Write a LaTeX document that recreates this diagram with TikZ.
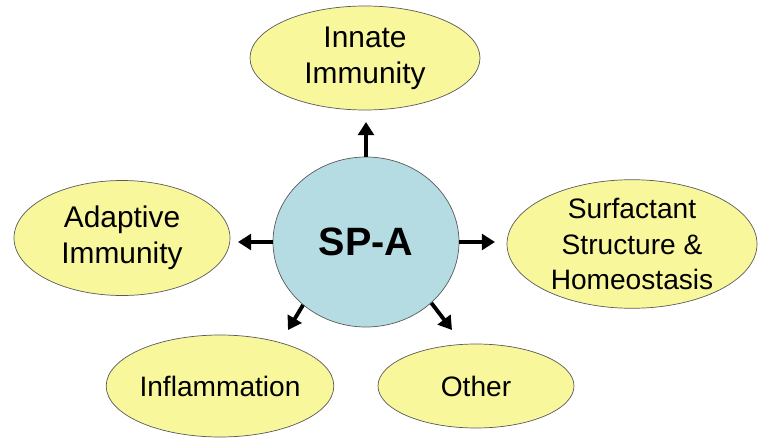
\documentclass[tikz,border=0pt]{standalone}
\usepackage{fontspec}
\setmainfont{Liberation Sans}
\usetikzlibrary{shapes.geometric,arrows.meta}
\definecolor{bubble}{HTML}{F9F79C}
\definecolor{core}{HTML}{B5DCE2}
\definecolor{rim}{HTML}{5A5A5A}
\begin{document}
\begin{tikzpicture}[
        role/.style={draw=rim, fill=bubble, ellipse, inner sep=0pt, align=center,
            font=\fontsize{16}{20}\selectfont},
        big/.style={font=\fontsize{17}{20.5}\selectfont},
        spoke/.style={line width=2.2pt, -{Triangle[length=7.5pt, width=9pt]}}
    ]
        \useasboundingbox (0,0) rectangle (15.16,8.74);
        \node[draw=rim, fill=core, ellipse, minimum width=3.72cm, minimum height=3.4cm,
            font=\fontsize{22.5}{26}\selectfont\bfseries] (spa) at (7.32,3.90) {SP-A};
        \node[role, big, minimum width=4.6cm,  minimum height=2.08cm] (innate)  at (7.30,7.58) {Innate\\Immunity};
        \node[role, minimum width=5.0cm,  minimum height=2.54cm] (surf)    at (12.64,3.86) {Surfactant\\Structure \&\\Homeostasis};
        \node[role, big, minimum width=4.32cm, minimum height=2.30cm] (adaptive) at (2.44,3.98) {Adaptive\\Immunity};
        \node[role, minimum width=4.4cm,  minimum height=2.04cm] (inflam)  at (4.40,1.02) {Inflammation};
        \node[role, minimum width=3.92cm, minimum height=1.68cm] (other)   at (9.52,1.02) {Other};
        \coordinate (toInnate)   at (7.32,6.30);
        \coordinate (toSurf)     at (9.90,3.90);
        \coordinate (toAdaptive) at (4.76,3.90);
        \coordinate (toInflam)   at (5.76,2.14);
        \coordinate (toOther)    at (9.04,2.14);
        \draw[spoke] (spa.north) -- (toInnate);
        \draw[spoke] (spa.east)  -- (toSurf);
        \draw[spoke] (spa.west)  -- (toAdaptive);
        \draw[spoke] (spa.225)   -- (toInflam);
        \draw[spoke] (spa.-43)   -- (toOther);
    \end{tikzpicture}
\end{document}
